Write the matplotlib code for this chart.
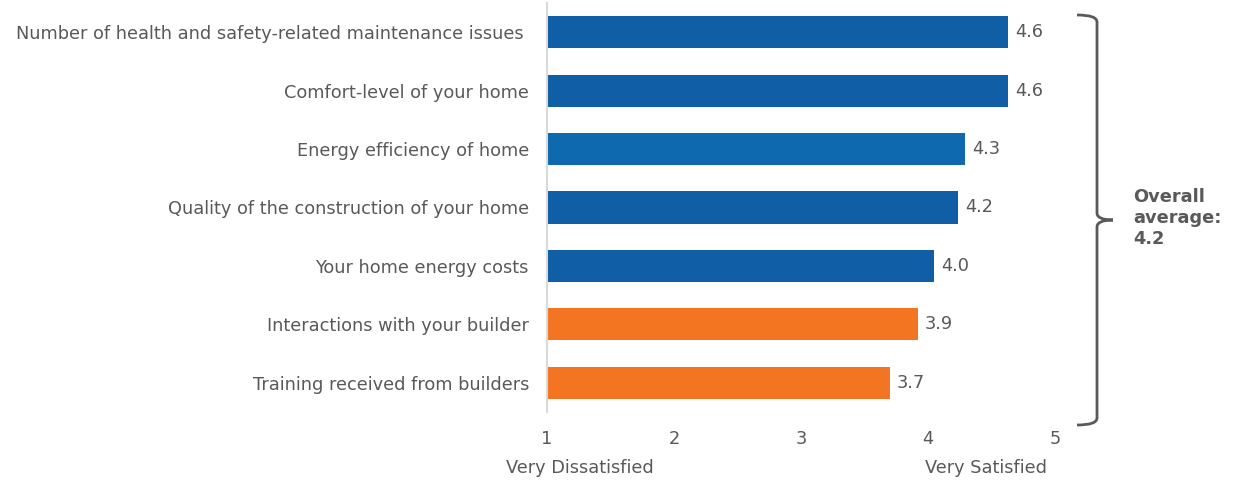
import matplotlib
matplotlib.use("Agg")
import matplotlib.pyplot as plt
from matplotlib.path import Path
from matplotlib.patches import PathPatch

categories = [
    "Number of health and safety-related maintenance issues ",
    "Comfort-level of your home",
    "Energy efficiency of home",
    "Quality of the construction of your home",
    "Your home energy costs",
    "Interactions with your builder",
    "Training received from builders",
]
scores = [4.63, 4.63, 4.29, 4.24, 4.05, 3.92, 3.70]
labels = ["4.6", "4.6", "4.3", "4.2", "4.0", "3.9", "3.7"]
colors = ["#0F5EA6", "#0F5EA6", "#0E69AE", "#0F5EA6", "#0F5EA6", "#F47521", "#F47521"]
xticks = [1, 2, 3, 4, 5]
overall = "Overall\naverage:\n4.2"

gray = "#595959"
fs = 12.8
plt.rcParams["font.family"] = ["DejaVu Sans"]

W, H = 1233, 483
fig = plt.figure(figsize=(W / 100, H / 100), dpi=100)
ax = fig.add_axes([547 / W, 1 - 412 / H, (1055 - 547) / W, (412 - 3) / H])

y = list(range(len(categories)))
ax.barh(y, [s - 1 for s in scores], left=1, height=0.55, color=colors)
for yi, s, lab in zip(y, scores, labels):
    ax.text(s + 0.055, yi, lab, va="center", ha="left", fontsize=fs, color=gray)

ax.set_xlim(1, 5)
ax.set_ylim(len(categories) - 0.5, -0.5)
ax.set_yticks(y)
ax.set_yticklabels(categories, fontsize=fs, color=gray)
ax.set_xticks(xticks)
ax.set_xticklabels([str(t) for t in xticks], fontsize=fs, color=gray)
ax.tick_params(axis="both", length=0)
ax.tick_params(axis="y", pad=13)
ax.tick_params(axis="x", pad=13)
for side in ["top", "right", "bottom"]:
    ax.spines[side].set_visible(False)
ax.spines["left"].set_color("#D9D9D9")
ax.spines["left"].set_linewidth(1.5)

fig.text(580 / W, 1 - 468 / H, "Very Dissatisfied", ha="center", va="center",
         fontsize=fs, color=gray)
fig.text(986 / W, 1 - 468 / H, "Very Satisfied", ha="center", va="center",
         fontsize=fs, color=gray)

# right-hand brace
def p(x, yy):
    return (x / W, 1 - yy / H)

verts = [p(1077, 15), p(1097, 15), p(1097, 22),
         p(1097, 213),
         p(1097, 220), p(1113, 220),
         p(1097, 220), p(1097, 227),
         p(1097, 418),
         p(1097, 425), p(1077, 425)]
codes = [Path.MOVETO, Path.CURVE3, Path.CURVE3,
         Path.LINETO,
         Path.CURVE3, Path.CURVE3,
         Path.CURVE3, Path.CURVE3,
         Path.LINETO,
         Path.CURVE3, Path.CURVE3]
fig.add_artist(PathPatch(Path(verts, codes), transform=fig.transFigure,
                         fill=False, edgecolor=gray, linewidth=2))

fig.text(1133 / W, 1 - 218 / H, overall, ha="left", va="center",
         fontsize=fs, fontweight="bold", color=gray, linespacing=1.25)

fig.savefig("out.png", dpi=100)
